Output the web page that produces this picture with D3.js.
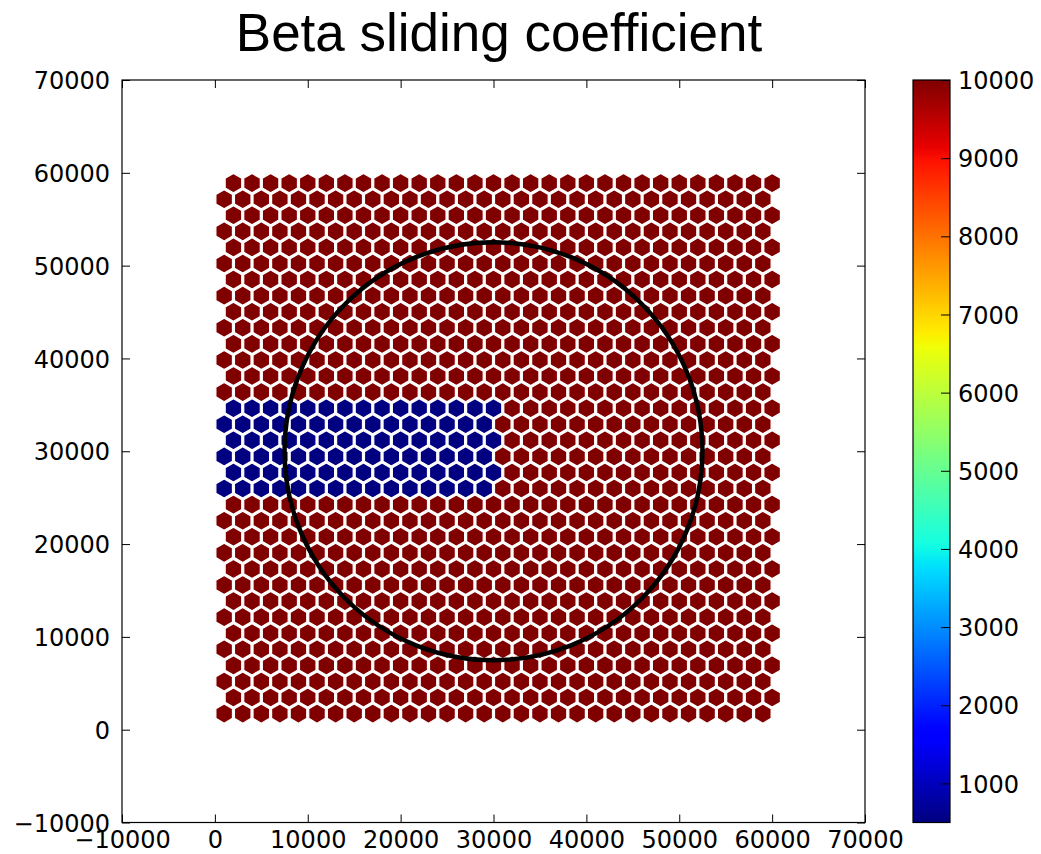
<!DOCTYPE html>
<html>
<head>
<meta charset="utf-8">
<script src="https://cdn.jsdelivr.net/npm/d3@7"></script>
<style>
  html, body { margin: 0; padding: 0; background: #ffffff; }
  svg { display: block; }
</style>
</head>
<body>
<svg id="chart" width="1041" height="854"></svg>
<script>
// ---------------- data ----------------
const titleText = "Beta sliding coefficient";
const axisTicks = [-10000, 0, 10000, 20000, 30000, 40000, 50000, 60000, 70000];
const colorbarTicks = [1000, 2000, 3000, 4000, 5000, 6000, 7000, 8000, 9000, 10000];
const colorDomain = [500, 10000];

// hexagonal cell grid (cell centres, metres)
const gridSpacing = 2000;
const rowNumbers = [1,2,3,4,5,6,7,8,9,10,11,12,13,14,15,16,17,18,19,20,21,22,23,24,25,26,27,28,29,30,31,32,33,34];
const oddRowX  = [1000,3000,5000,7000,9000,11000,13000,15000,17000,19000,21000,23000,25000,27000,29000,31000,33000,35000,37000,39000,41000,43000,45000,47000,49000,51000,53000,55000,57000,59000];
const evenRowX = [2000,4000,6000,8000,10000,12000,14000,16000,18000,20000,22000,24000,26000,28000,30000,32000,34000,36000,38000,40000,42000,44000,46000,48000,50000,52000,54000,56000,58000,60000];

// beta values
const betaHigh = 10000;
const betaLow = 500;
const lowBetaRows = [15, 16, 17, 18, 19, 20];
const lowBetaMaxX = 30000;

// circle overlay
const circleCenter = [30000, 30000];
const circleRadius = 22500;

// ---------------- jet colormap ----------------
function seg(points) {
  return d3.scaleLinear().domain(points.map(p => p[0])).range(points.map(p => p[1])).clamp(true);
}
const jetR = seg([[0,0],[0.35,0],[0.66,1],[0.89,1],[1,0.5]]);
const jetG = seg([[0,0],[0.125,0],[0.375,1],[0.64,1],[0.91,0],[1,0]]);
const jetB = seg([[0,0.5],[0.11,1],[0.34,1],[0.65,0],[1,0]]);
function jet(t) {
  return d3.rgb(Math.round(jetR(t) * 255), Math.round(jetG(t) * 255), Math.round(jetB(t) * 255)).formatHex();
}
const norm = d3.scaleLinear().domain(colorDomain).range([0, 1]).clamp(true);
const colorOf = v => jet(norm(v));

// ---------------- build cells ----------------
const rowDy = gridSpacing * Math.sqrt(3) / 2;
const cells = [];
rowNumbers.forEach(k => {
  const xs = (k % 2 === 1) ? oddRowX : evenRowX;
  const y = k * rowDy;
  xs.forEach(x => {
    const low = lowBetaRows.includes(k) && x <= lowBetaMaxX;
    cells.push({ x, y, beta: low ? betaLow : betaHigh });
  });
});

// ---------------- layout ----------------
const svg = d3.select("#chart");
const plot = { left: 122, right: 865, top: 80, bottom: 822.5 };
const cbar = { left: 913, right: 950, top: 80, bottom: 822.5 };
const fontTick = "'DejaVu Sans', sans-serif";
const tickLen = 8;
const fmt = d3.format("d");

const x = d3.scaleLinear().domain([-10000, 70000]).range([plot.left, plot.right]);
const y = d3.scaleLinear().domain([-10000, 70000]).range([plot.bottom, plot.top]);

// title
svg.append("text")
  .attr("x", 499).attr("y", 51)
  .attr("text-anchor", "middle")
  .attr("font-family", "'Liberation Sans', Arial, sans-serif")
  .attr("font-size", 53)
  .attr("fill", "#000")
  .text(titleText);

// clip
svg.append("clipPath").attr("id", "plotclip")
  .append("rect")
  .attr("x", plot.left).attr("y", plot.top)
  .attr("width", plot.right - plot.left).attr("height", plot.bottom - plot.top);

const g = svg.append("g").attr("clip-path", "url(#plotclip)");

// hexagons (pointy-top)
const pxPerUnit = x(gridSpacing) - x(0);
const hexR = pxPerUnit * 0.515;
function hexPath(cx, cy, r) {
  const pts = d3.range(6).map(i => {
    const a = Math.PI / 180 * (60 * i - 90);
    return [cx + r * Math.cos(a), cy + r * Math.sin(a)];
  });
  return "M" + pts.map(p => p[0].toFixed(2) + "," + p[1].toFixed(2)).join("L") + "Z";
}
g.selectAll("path.hex")
  .data(cells)
  .join("path")
  .attr("class", "hex")
  .attr("d", d => hexPath(x(d.x), y(d.y), hexR))
  .attr("fill", d => colorOf(d.beta))
  .attr("stroke", "#ffffff")
  .attr("stroke-width", 1.2);

// circle
g.append("circle")
  .attr("cx", x(circleCenter[0]))
  .attr("cy", y(circleCenter[1]))
  .attr("r", x(circleRadius) - x(0))
  .attr("fill", "none")
  .attr("stroke", "#000")
  .attr("stroke-width", 4.5);

// axes
function styleAxis(sel) {
  sel.select(".domain").remove();
  sel.selectAll(".tick line").attr("stroke", "#000").attr("stroke-width", 1);
  sel.selectAll(".tick text")
    .attr("font-family", fontTick)
    .attr("font-size", 24)
    .attr("fill", "#000");
}
const xBottom = svg.append("g").attr("transform", `translate(0,${plot.bottom})`)
  .call(d3.axisBottom(x).tickValues(axisTicks).tickSize(-tickLen).tickPadding(8).tickFormat(fmt));
styleAxis(xBottom);
xBottom.selectAll(".tick text").attr("dy", "0.73em");

const xTop = svg.append("g").attr("transform", `translate(0,${plot.top})`)
  .call(d3.axisTop(x).tickValues(axisTicks).tickSize(-tickLen).tickFormat(""));
styleAxis(xTop);

const yLeft = svg.append("g").attr("transform", `translate(${plot.left},0)`)
  .call(d3.axisLeft(y).tickValues(axisTicks).tickSize(-tickLen).tickPadding(12).tickFormat(fmt));
styleAxis(yLeft);
yLeft.selectAll(".tick text").attr("dy", "0.36em");

const yRight = svg.append("g").attr("transform", `translate(${plot.right},0)`)
  .call(d3.axisRight(y).tickValues(axisTicks).tickSize(-tickLen).tickFormat(""));
styleAxis(yRight);

// frame
svg.append("rect")
  .attr("x", plot.left).attr("y", plot.top)
  .attr("width", plot.right - plot.left).attr("height", plot.bottom - plot.top)
  .attr("fill", "none").attr("stroke", "#000").attr("stroke-width", 1.2);

// colorbar
const cy = d3.scaleLinear().domain(colorDomain).range([cbar.bottom, cbar.top]);
const grad = svg.append("defs").append("linearGradient")
  .attr("id", "jetgrad")
  .attr("x1", "0").attr("y1", "1").attr("x2", "0").attr("y2", "0");
d3.range(0, 101).forEach(i => {
  const t = i / 100;
  grad.append("stop").attr("offset", t).attr("stop-color", jet(t));
});
svg.append("rect")
  .attr("x", cbar.left).attr("y", cbar.top)
  .attr("width", cbar.right - cbar.left).attr("height", cbar.bottom - cbar.top)
  .attr("fill", "url(#jetgrad)");

const cAxis = svg.append("g").attr("transform", `translate(${cbar.right},0)`)
  .call(d3.axisRight(cy).tickValues(colorbarTicks).tickSize(-9).tickPadding(8).tickFormat(fmt));
styleAxis(cAxis);
cAxis.selectAll(".tick text").attr("dy", "0.36em");

svg.append("rect")
  .attr("x", cbar.left).attr("y", cbar.top)
  .attr("width", cbar.right - cbar.left).attr("height", cbar.bottom - cbar.top)
  .attr("fill", "none").attr("stroke", "#000").attr("stroke-width", 1.2);
</script>
</body>
</html>
